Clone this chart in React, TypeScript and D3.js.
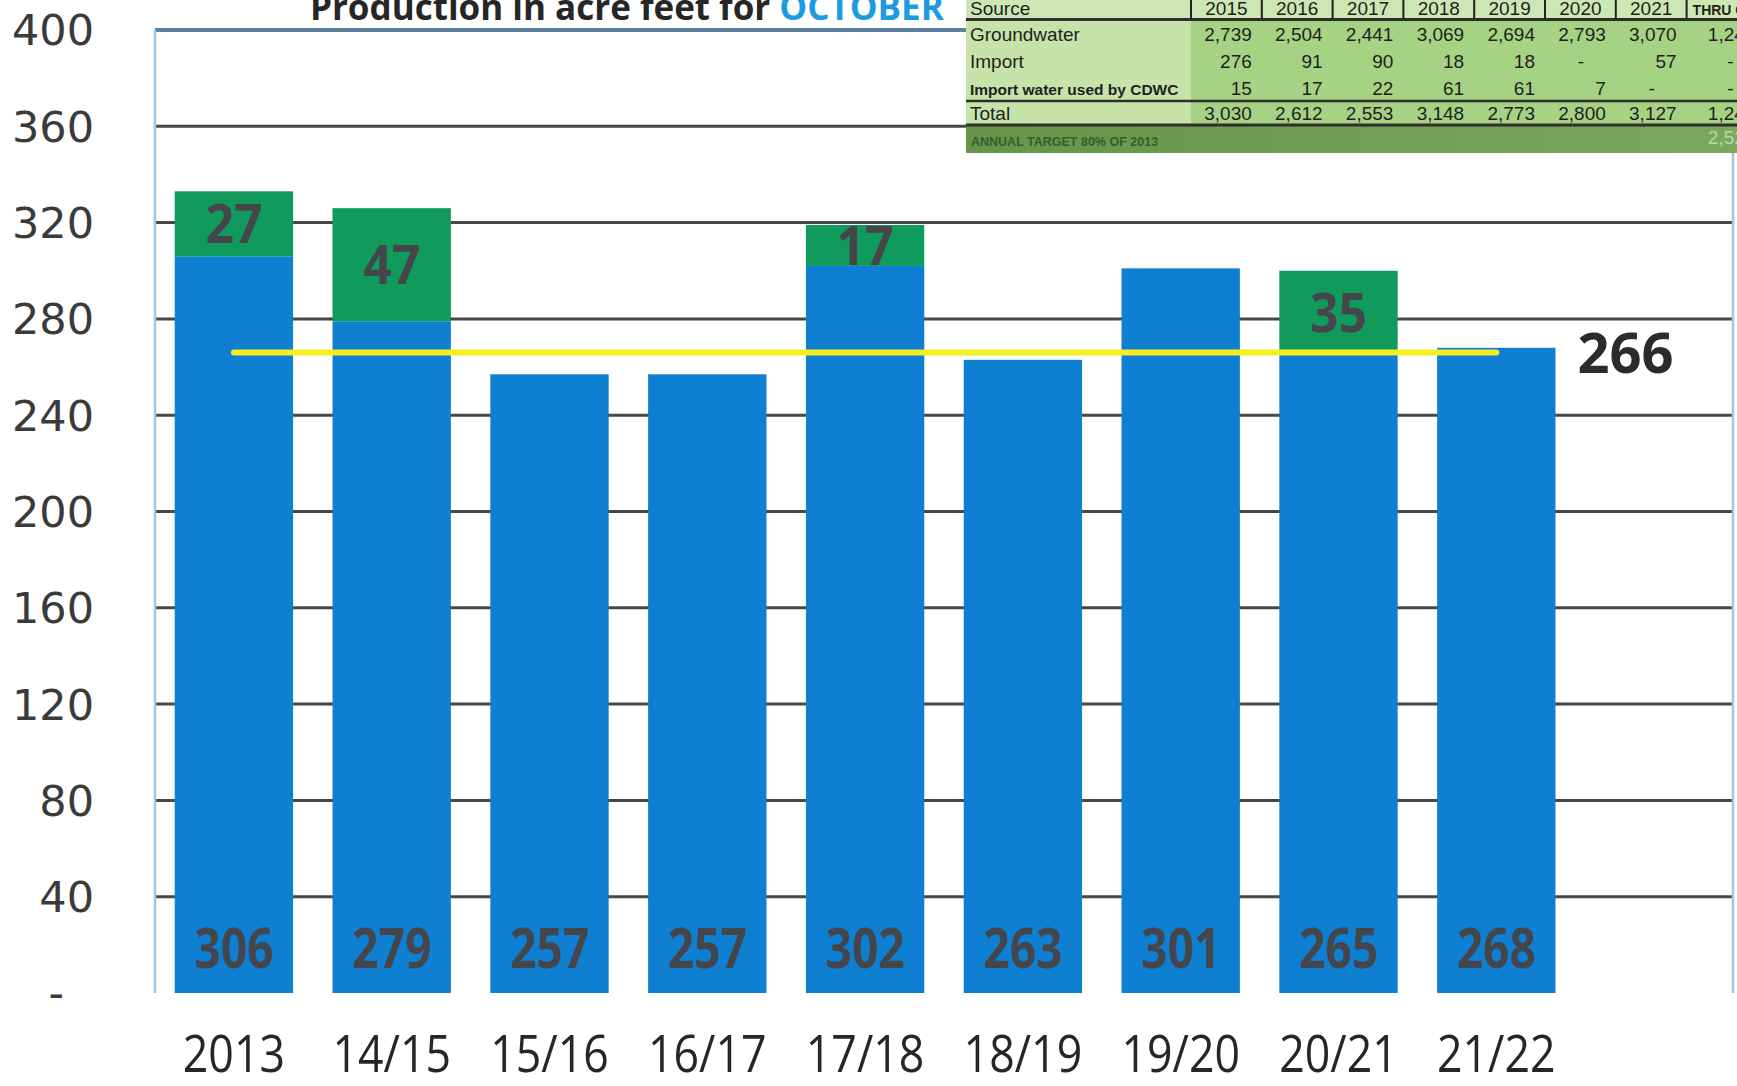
import React, { useEffect, useRef } from "react";
import * as d3 from "d3";

// bars: production in acre feet for October
const years = ["2013", "14/15", "15/16", "16/17", "17/18", "18/19", "19/20", "20/21", "21/22"];
const groundwater = [306, 279, 257, 257, 302, 263, 301, 265, 268];
const imported = [27, 47, 0, 0, 17, 0, 0, 35, 0];
const target = 266;
const yTicks = [0, 40, 80, 120, 160, 200, 240, 280, 320, 360, 400];

// pasted table at top right
const tableYears = ["2015", "2016", "2017", "2018", "2019", "2020", "2021", "THRU OCT"];
const tableGroundwater = ["2,739", "2,504", "2,441", "3,069", "2,694", "2,793", "3,070", "1,245"];
const tableImport = ["276", "91", "90", "18", "18", "-", "57", "-"];
const tableCdwc = ["15", "17", "22", "61", "61", "7", "-", "-"];
const tableTotal = ["3,030", "2,612", "2,553", "3,148", "2,773", "2,800", "3,127", "1,245"];
const annualTarget = "2,520";

export default function App() {
  const svgRef = useRef<SVGSVGElement>(null);

  useEffect(() => {
    const svg = d3.select(svgRef.current);
    svg.selectAll("*").remove();

    const left = 155;
    const right = 1733;
    const top = 30;
    const bottom = 993;

    // last slot is empty, the target label sits there
    const x = d3
      .scaleBand()
      .domain([...years, "target"])
      .range([left, right])
      .paddingInner(0.25)
      .paddingOuter(0.125);
    const y = d3.scaleLinear().domain([0, 400]).range([bottom, top]);
    const bw = x.bandwidth();

    const sans = "'Open Sans', sans-serif";
    // no narrow font installed, so squeeze Open Sans horizontally
    const squeeze = (cx, cy, s) => `translate(${cx},${cy}) scale(${s},1)`;

    // grid
    svg
      .append("g")
      .selectAll("line")
      .data(yTicks.filter((t) => t > 0 && t < 400))
      .enter()
      .append("line")
      .attr("x1", left)
      .attr("x2", right)
      .attr("y1", (d) => y(d))
      .attr("y2", (d) => y(d))
      .attr("stroke", "#474747")
      .attr("stroke-width", 3);

    // frame
    svg
      .append("line")
      .attr("x1", left)
      .attr("x2", right)
      .attr("y1", y(400))
      .attr("y2", y(400))
      .attr("stroke", "#5b7f9e")
      .attr("stroke-width", 4);
    [left, right].forEach((xx) => {
      svg
        .append("line")
        .attr("x1", xx)
        .attr("x2", xx)
        .attr("y1", y(400))
        .attr("y2", y(0))
        .attr("stroke", "#9cc6ea")
        .attr("stroke-width", 2.5);
    });

    // y labels
    svg
      .append("g")
      .selectAll("text")
      .data(yTicks)
      .enter()
      .append("text")
      .attr("x", (d) => (d === 0 ? 64 : 94))
      .attr("y", (d) => y(d))
      .attr("dy", "0.36em")
      .attr("text-anchor", "end")
      .attr("font-family", "'DejaVu Sans', sans-serif")
      .attr("font-size", 43)
      .attr("fill", "#3a3a3a")
      .text((d) => (d === 0 ? "-" : d));

    const rows = years.map((yr, i) => ({ yr, gw: groundwater[i], imp: imported[i] }));

    // blue bars
    svg
      .append("g")
      .selectAll("rect")
      .data(rows)
      .enter()
      .append("rect")
      .attr("x", (d) => x(d.yr))
      .attr("width", bw)
      .attr("y", (d) => y(d.gw))
      .attr("height", (d) => y(0) - y(d.gw))
      .attr("fill", "#0e7fd1");

    // green bars
    const withImport = rows.filter((d) => d.imp > 0);
    svg
      .append("g")
      .selectAll("rect")
      .data(withImport)
      .enter()
      .append("rect")
      .attr("x", (d) => x(d.yr))
      .attr("width", bw)
      .attr("y", (d) => y(d.gw + d.imp))
      .attr("height", (d) => y(d.gw) - y(d.gw + d.imp))
      .attr("fill", "#109a5c");

    // bar labels
    svg
      .append("g")
      .selectAll("text")
      .data(rows)
      .enter()
      .append("text")
      .attr("transform", (d) => squeeze(x(d.yr) + bw / 2, y(0) - 25, 0.84))
      .attr("text-anchor", "middle")
      .attr("font-family", sans)
      .attr("font-weight", 700)
      .attr("font-size", 55)
      .attr("fill", "#45454c")
      .text((d) => d.gw);

    svg
      .append("g")
      .selectAll("text")
      .data(withImport)
      .enter()
      .append("text")
      .attr("transform", (d) => squeeze(x(d.yr) + bw / 2, (y(d.gw) + y(d.gw + d.imp)) / 2, 0.94))
      .attr("dy", "0.36em")
      .attr("text-anchor", "middle")
      .attr("font-family", sans)
      .attr("font-weight", 700)
      .attr("font-size", 53)
      .attr("fill", "#45454c")
      .text((d) => d.imp);

    // target line
    svg
      .append("line")
      .attr("x1", x(years[0]) + bw / 2)
      .attr("x2", x(years[years.length - 1]) + bw / 2)
      .attr("y1", y(target))
      .attr("y2", y(target))
      .attr("stroke", "#f4ee22")
      .attr("stroke-width", 6)
      .attr("stroke-linecap", "round");

    svg
      .append("text")
      .attr("x", x(years[years.length - 1]) + bw + 22)
      .attr("y", y(target))
      .attr("dy", "0.36em")
      .attr("font-family", sans)
      .attr("font-weight", 700)
      .attr("font-size", 56)
      .attr("fill", "#2b2b2b")
      .text(target);

    // x labels
    svg
      .append("g")
      .selectAll("text")
      .data(years)
      .enter()
      .append("text")
      .attr("transform", (d) => squeeze(x(d) + bw / 2, 1072, 0.86))
      .attr("text-anchor", "middle")
      .attr("font-family", sans)
      .attr("font-size", 52)
      .attr("fill", "#262626")
      .text((d) => d);

    // title (cut at the top like the scan)
    const title = svg
      .append("text")
      .attr("x", 310)
      .attr("y", 20)
      .attr("font-family", sans)
      .attr("font-weight", 700)
      .attr("font-size", 35)
      .attr("fill", "#262626");
    title.append("tspan").text("Production in acre feet for ");
    title.append("tspan").attr("fill", "#1c9be0").text("OCTOBER");

    // table
    const tb = svg.append("g");
    const tLeft = 966;
    const colStart = 1191;
    const colW = 70.8;
    const colRight = (i) => colStart + (i + 1) * colW - 10 + (i === 7 ? 8 : 0);
    const tableFont = "'Liberation Sans', Arial, sans-serif";

    tb.append("rect").attr("x", tLeft).attr("y", 0).attr("width", 1737 - tLeft).attr("height", 127).attr("fill", "#c6e3a9");
    tb.append("rect").attr("x", colStart).attr("y", 19).attr("width", 1737 - colStart).attr("height", 106).attr("fill", "#a6d283");
    tb.append("rect").attr("x", tLeft).attr("y", 0).attr("width", 1737 - tLeft).attr("height", 19).attr("fill", "#cce7b3");

    const grad = svg.append("defs").append("linearGradient").attr("id", "annual");
    grad.append("stop").attr("offset", "0%").attr("stop-color", "#669549");
    grad.append("stop").attr("offset", "100%").attr("stop-color", "#7aa85c");
    tb.append("rect").attr("x", tLeft).attr("y", 126).attr("width", 1737 - tLeft).attr("height", 27).attr("fill", "url(#annual)");

    [19.5, 101, 125].forEach((yy, i) => {
      tb.append("line")
        .attr("x1", tLeft)
        .attr("x2", 1737)
        .attr("y1", yy)
        .attr("y2", yy)
        .attr("stroke", "#2e2e2e")
        .attr("stroke-width", i === 1 ? 2.5 : 3);
    });

    tableYears.forEach((_, i) => {
      const xx = colStart + i * colW;
      tb.append("line").attr("x1", xx).attr("x2", xx).attr("y1", 0).attr("y2", 19).attr("stroke", "#222").attr("stroke-width", 2);
    });

    tb.append("text")
      .attr("x", 970)
      .attr("y", 15)
      .attr("font-family", tableFont)
      .attr("font-size", 19)
      .attr("fill", "#1f1f1f")
      .text("Source");
    tableYears.forEach((yr, i) => {
      tb.append("text")
        .attr("x", i === 7 ? colStart + i * colW + 6 : colStart + i * colW + colW / 2)
        .attr("y", 15)
        .attr("text-anchor", i === 7 ? "start" : "middle")
        .attr("font-family", tableFont)
        .attr("font-size", i === 7 ? 14 : 19)
        .attr("font-weight", i === 7 ? 700 : 400)
        .attr("fill", "#1f1f1f")
        .text(yr);
    });

    const bodyRows = [
      { label: "Groundwater", vals: tableGroundwater, base: 41, size: 19 },
      { label: "Import", vals: tableImport, base: 68, size: 19 },
      { label: "Import water used by CDWC", vals: tableCdwc, base: 95, size: 15.5 },
      { label: "Total", vals: tableTotal, base: 120, size: 19 },
    ];
    bodyRows.forEach((r) => {
      tb.append("text")
        .attr("x", 970)
        .attr("y", r.base)
        .attr("font-family", tableFont)
        .attr("font-size", r.size)
        .attr("font-weight", r.size < 19 ? 700 : 400)
        .attr("fill", "#1f1f1f")
        .text(r.label);
      r.vals.forEach((v, i) => {
        const dash = v === "-";
        tb.append("text")
          .attr("x", dash ? colRight(i) - 25 : colRight(i))
          .attr("y", r.base)
          .attr("text-anchor", dash ? "middle" : "end")
          .attr("font-family", tableFont)
          .attr("font-size", 19)
          .attr("fill", "#1f1f1f")
          .text(v);
      });
    });

    tb.append("text")
      .attr("x", 971)
      .attr("y", 146)
      .attr("font-family", tableFont)
      .attr("font-size", 12.5)
      .attr("font-weight", 700)
      .attr("fill", "#3b5a2b")
      .text("ANNUAL TARGET 80% OF 2013");
    tb.append("text")
      .attr("x", colRight(7))
      .attr("y", 144)
      .attr("text-anchor", "end")
      .attr("font-family", tableFont)
      .attr("font-size", 19)
      .attr("fill", "#bcd6a4")
      .text(annualTarget);
  }, []);

  return (
    <svg
      ref={svgRef}
      width={1737}
      height={1086}
      style={{ position: "absolute", left: 0, top: 0, background: "#fff" }}
    ></svg>
  );
}
